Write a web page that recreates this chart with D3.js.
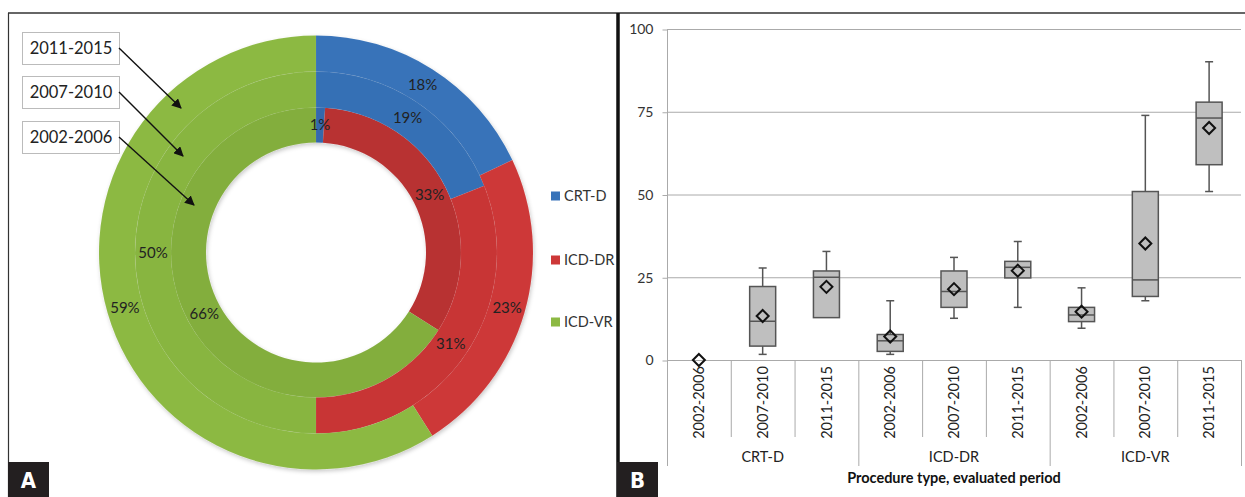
<!DOCTYPE html>
<html><head><meta charset="utf-8">
<script src="https://cdn.jsdelivr.net/npm/d3@7/dist/d3.min.js"></script>
<style>body{margin:0;background:#fff}svg{display:block;font-family:Lato,"Open Sans",sans-serif}</style>
</head><body>
<svg id="c" width="1245" height="497"></svg>
<script>
// ---------- DATA ----------
const procedures = ["CRT-D", "ICD-DR", "ICD-VR"];
const periods = ["2002-2006", "2007-2010", "2011-2015"];
// donut shares (%) per period, order = procedures
const share2002 = [1, 33, 66];
const share2007 = [19, 31, 50];
const share2011 = [18, 23, 59];
// box plot stats per procedure x period
const boxMin    = [0, 1.7, 13,   1.7, 12.6, 15.9,  9.6, 17.9, 50.9];
const boxQ1     = [0, 4.2, 12.8, 2.6, 15.9, 24.8, 11.6, 19.2, 59.0];
const boxMedian = [0, 11.7, 25,  5.8, 20.7, 28.0, 13.6, 24.2, 73.1];
const boxQ3     = [0, 22.2, 26.9, 7.7, 26.9, 29.8, 15.9, 50.9, 77.9];
const boxMax    = [0, 27.8, 32.8, 17.9, 31.0, 35.8, 21.8, 73.9, 90.1];
const boxMean   = [0, 13.3, 22.1, 7.1, 21.4, 27.0, 14.6, 35.2, 70.1];
const yTicks = [0, 25, 50, 75, 100];
const axisTitle = "Procedure type, evaluated period";

const svg = d3.select("#c");
const colors = ["#3873b9", "#cd3838", "#8cb943"];
const midPal = ["#3670b5", "#c83536", "#88b541"];
const inner = ["#3468ac", "#b83031", "#83ae3e"];

// ---------- FRAME ----------
svg.append("line").attr("x1",8).attr("x2",1245).attr("y1",13).attr("y2",13).attr("stroke","#333").attr("stroke-width",1.5);
svg.append("line").attr("x1",8.5).attr("x2",8.5).attr("y1",13).attr("y2",497).attr("stroke","#333").attr("stroke-width",1.2);
svg.append("line").attr("x1",618).attr("x2",618).attr("y1",13).attr("y2",497).attr("stroke","#111").attr("stroke-width",3.5);

// ---------- PANEL A: donut ----------
const cx = 316, cy = 252.5;
const rings = [
  {data: share2002, r0: 110, r1: 145, pal: inner},
  {data: share2007, r0: 145, r1: 181, pal: midPal},
  {data: share2011, r0: 181, r1: 217, pal: colors}
];
const pie = d3.pie().sort(null).value(d => d);
const gA = svg.append("g").attr("transform", `translate(${cx},${cy})`);
const defs = svg.append("defs");
const f = defs.append("filter").attr("id","sh").attr("x","-10%").attr("y","-10%").attr("width","120%").attr("height","120%");
f.append("feDropShadow").attr("dx",1).attr("dy",2).attr("stdDeviation",2).attr("flood-opacity",0.22);
const gShadow = gA.append("g").attr("filter","url(#sh)");
rings.forEach(ring => {
  const arc = d3.arc().innerRadius(ring.r0).outerRadius(ring.r1);
  gShadow.selectAll(null).data(pie(ring.data)).enter().append("path")
    .attr("d", arc).attr("fill", (d,i) => ring.pal[i])
    .attr("stroke", "rgba(255,255,255,0.08)").attr("stroke-width", 0.5);
});
rings.forEach(ring => {
  const arc = d3.arc().innerRadius(ring.r0).outerRadius(ring.r1);
  gA.selectAll(null).data(pie(ring.data)).enter().append("text")
    .attr("transform", d => `translate(${arc.centroid(d)})`)
    .attr("text-anchor","middle").attr("dy","0.35em")
    .attr("font-size",15).attr("fill","#222")
    .text(d => d.data + "%");
});

// legend
const lg = svg.append("g");
procedures.forEach((p,i) => {
  const y = [196, 260, 322][i];
  lg.append("rect").attr("x",551).attr("y",y-4.5).attr("width",9).attr("height",9).attr("fill",colors[i]);
  lg.append("text").attr("x",564).attr("y",y).attr("dy","0.35em").attr("font-size",14.5).attr("fill","#333").text(p);
});

// callouts
defs.append("marker").attr("id","ah").attr("viewBox","0 0 10 10").attr("refX",9).attr("refY",5)
  .attr("markerWidth",7).attr("markerHeight",7).attr("orient","auto-start-reverse")
  .append("path").attr("d","M0,0L10,5L0,10z").attr("fill","#111");
const callouts = [
  {t: periods[2], y: 32, ex: 181, ey: 108},
  {t: periods[1], y: 76, ex: 183, ey: 156},
  {t: periods[0], y: 121, ex: 194, ey: 205}
];
callouts.forEach(c => {
  svg.append("rect").attr("x",22.5).attr("y",c.y+0.5).attr("width",97).attr("height",32)
    .attr("fill","#fff").attr("stroke","#bbb").attr("stroke-width",1);
  svg.append("text").attr("x",71).attr("y",c.y+16.5).attr("dy","0.35em").attr("text-anchor","middle")
    .attr("font-size",16.5).attr("fill","#222").text(c.t);
  svg.append("line").attr("x1",119).attr("y1",c.y+16).attr("x2",c.ex).attr("y2",c.ey)
    .attr("stroke","#111").attr("stroke-width",1.4).attr("marker-end","url(#ah)");
});

// ---------- PANEL B: box plot ----------
const cats = [];
procedures.forEach(p => periods.forEach(t => cats.push(p + "|" + t)));
const x = d3.scaleBand().domain(cats).range([667, 1241]);
const y = d3.scaleLinear().domain([0, 100]).range([360, 29]);
const gB = svg.append("g");
// grid
gB.selectAll(null).data(yTicks).enter().append("line")
  .attr("x1",667).attr("x2",1241).attr("y1",d=>y(d)+0.5).attr("y2",d=>y(d)+0.5)
  .attr("stroke","#aaa").attr("stroke-width",1);
// y axis
const yAxis = d3.axisLeft(y).tickValues(yTicks).tickSize(5).tickPadding(9);
const ya = gB.append("g").attr("transform","translate(667.5,0.5)").call(yAxis);
ya.select(".domain").remove();
ya.selectAll(".tick line").attr("stroke","#aaa");
ya.selectAll(".tick text").attr("font-size",14).attr("fill","#333").attr("font-family","Lato,'Open Sans',sans-serif");
gB.append("line").attr("x1",667.5).attr("x2",667.5).attr("y1",29).attr("y2",466).attr("stroke","#aaa");
// category separators
cats.forEach((c,i) => {
  if (i === 0) return;
  const xx = x(c) + 0.5;
  gB.append("line").attr("x1",xx).attr("x2",xx).attr("y1",360).attr("y2", i % 3 === 0 ? 466 : 437).attr("stroke","#aaa");
});
gB.append("line").attr("x1",1241.5).attr("x2",1241.5).attr("y1",360).attr("y2",466).attr("stroke","#aaa");
// category labels
cats.forEach(c => {
  const xc = x(c) + x.bandwidth()/2;
  gB.append("text").attr("transform",`translate(${xc},402.5) rotate(-90)`)
    .attr("text-anchor","middle").attr("dy","0.35em").attr("font-size",14.5).attr("fill","#222")
    .text(c.split("|")[1]);
});
procedures.forEach((p,i) => {
  const xc = x(p + "|" + periods[1]) + x.bandwidth()/2;
  gB.append("text").attr("x",xc).attr("y",457).attr("dy","0.35em").attr("text-anchor","middle")
    .attr("font-size",14.5).attr("fill","#222").text(p);
});
gB.append("text").attr("x",954).attr("y",478).attr("dy","0.35em").attr("text-anchor","middle")
  .attr("font-size",14.5).attr("font-weight","bold").attr("fill","#111").text(axisTitle);

// boxes
const bw = 26, cap = 8;
cats.forEach((c,i) => {
  const xc = x(c) + x.bandwidth()/2;
  const g = gB.append("g");
  if (boxMax[i] > boxMin[i]) {
    if (boxMax[i] > boxQ3[i]) {
      g.append("line").attr("x1",xc).attr("x2",xc).attr("y1",y(boxMax[i])).attr("y2",y(boxQ3[i])).attr("stroke","#555").attr("stroke-width",1.5);
      g.append("line").attr("x1",xc-cap/2).attr("x2",xc+cap/2).attr("y1",y(boxMax[i])).attr("y2",y(boxMax[i])).attr("stroke","#555").attr("stroke-width",1.5);
    }
    if (boxQ1[i] > boxMin[i] + 0.1) {
      g.append("line").attr("x1",xc).attr("x2",xc).attr("y1",y(boxQ1[i])).attr("y2",y(boxMin[i])).attr("stroke","#555").attr("stroke-width",1.5);
      g.append("line").attr("x1",xc-cap/2).attr("x2",xc+cap/2).attr("y1",y(boxMin[i])).attr("y2",y(boxMin[i])).attr("stroke","#555").attr("stroke-width",1.5);
    }
    g.append("rect").attr("x",xc-bw/2).attr("y",y(boxQ3[i])).attr("width",bw).attr("height",y(boxQ1[i])-y(boxQ3[i]))
      .attr("fill","#bfbfbf").attr("stroke","#555").attr("stroke-width",1.5);
    g.append("line").attr("x1",xc-bw/2).attr("x2",xc+bw/2).attr("y1",y(boxMedian[i])).attr("y2",y(boxMedian[i])).attr("stroke","#555").attr("stroke-width",1.5);
  }
  const ym = y(boxMean[i]), s = 6;
  g.append("path").attr("d",`M${xc},${ym-s}L${xc+s},${ym}L${xc},${ym+s}L${xc-s},${ym}Z`)
    .attr("fill","none").attr("stroke","#111").attr("stroke-width",2);
});

// ---------- PANEL LETTERS ----------
[["A", 8], ["B", 617]].forEach(([t, x0]) => {
  svg.append("rect").attr("x",x0).attr("y",462).attr("width",41).attr("height",35).attr("fill","#231f20");
  svg.append("text").attr("x",x0+20.5).attr("y",480).attr("dy","0.36em").attr("text-anchor","middle")
    .attr("font-size",22).attr("font-weight","bold").attr("fill","#fff").attr("font-family","'Liberation Sans Narrow','DejaVu Sans Condensed',sans-serif").text(t);
});
</script>
</body></html>
